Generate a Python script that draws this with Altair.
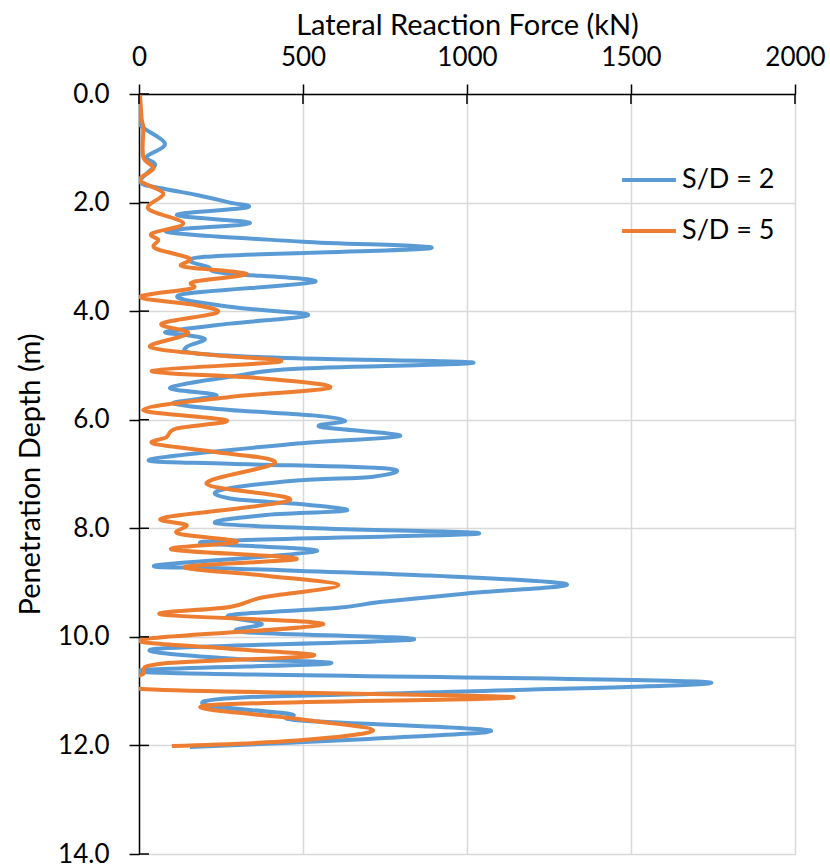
import altair as alt
import pandas as pd

# S/D = 2 (blue): depth (m) and lateral reaction force (kN)
sd2_depth = [0.0, 0.3, 0.57, 0.91, 1.16, 1.31, 1.62, 1.74, 1.86, 2.00, 2.09, 2.23, 2.38, 2.54,
             2.72, 2.84, 3.00, 3.20, 3.30, 3.46, 3.70, 3.92, 4.07, 4.23, 4.38, 4.44, 4.52,
             4.66, 4.78, 4.87, 4.95, 5.06, 5.18, 5.41, 5.55, 5.70, 5.82, 5.92, 6.02, 6.13,
             6.30, 6.44, 6.73, 6.81, 6.90, 7.05, 7.12, 7.30, 7.45, 7.55, 7.67, 7.76, 7.91,
             8.01, 8.10, 8.25, 8.42, 8.68, 8.74, 8.87, 9.03, 9.20, 9.36, 9.47, 9.60, 9.76,
             9.91, 10.05, 10.22, 10.40, 10.49, 10.65, 10.83, 11.02, 11.12, 11.26, 11.42,
             11.54, 11.72, 11.88, 12.03]
sd2_force = [2, 4, 3, 79, 23, 49, 3, 73, 176, 277, 328, 115, 338, 84,
             500, 887, 201, 215, 260, 537, 125, 277, 516, 277, 84, 145, 201,
             145, 176, 481, 1020, 481, 308, 95, 237, 105, 277, 530, 628, 552,
             796, 481, 34, 277, 755, 714, 481, 247, 277, 481, 633, 379, 237,
             582, 1030, 196, 542, 54, 277, 887, 1304, 1000, 735, 600, 277, 374,
             318, 836, 54, 277, 582, 23, 1726, 900, 300, 206, 460,
             491, 1070, 700, 155]

# S/D = 5 (orange)
sd5_depth = [0.0, 0.45, 0.63, 1.16, 1.37, 1.59, 1.83, 2.11, 2.38, 2.57, 2.69, 2.84, 3.03,
             3.18, 3.31, 3.46, 3.58, 3.74, 3.89, 4.03, 4.23, 4.41, 4.66, 4.81, 4.93, 5.10,
             5.24, 5.41, 5.58, 5.82, 6.01, 6.16, 6.32, 6.44, 6.59, 6.79, 7.18, 7.48, 7.80,
             7.94, 8.10, 8.25, 8.39, 8.56, 8.71, 8.87, 9.05, 9.27, 9.45, 9.59, 9.77, 10.05,
             10.22, 10.35, 10.49, 10.68, 10.96, 11.11, 11.26, 11.51, 11.72, 11.91, 12.01]
sd5_force = [3, 8, 13, 13, 44, 3, 74, 28, 135, 39, 59, 49, 155,
             135, 328, 166, 161, 3, 176, 237, 69, 150, 34, 227, 430, 39,
             379, 582, 277, 13, 267, 115, 84, 44, 227, 415, 206, 460, 79,
             145, 120, 298, 100, 481, 140, 379, 608, 379, 277, 69, 562, 8,
             277, 531, 74, 13, 13, 1141, 211, 481, 714, 481, 100]

series_names = ["S/D = 2", "S/D = 5"]
series_colors = ["#5B9BD5", "#ED7D31"]

x_ticks = [0, 500, 1000, 1500, 2000]
y_ticks = [0, 2, 4, 6, 8, 10, 12, 14]

df = pd.concat([
    pd.DataFrame({"depth": sd2_depth, "force": sd2_force, "series": series_names[0]}),
    pd.DataFrame({"depth": sd5_depth, "force": sd5_force, "series": series_names[1]}),
])

FONT = "Lato"

x_enc = alt.X("force:Q", scale=alt.Scale(domain=[0, 2000]),
              axis=alt.Axis(orient="top", values=x_ticks, format="d",
                            title="Lateral Reaction Force (kN)",
                            tickSize=10, labelPadding=14, titlePadding=4,
                            labelFlush=False, labelOverlap=False))
y_enc = alt.Y("depth:Q", scale=alt.Scale(domain=[0, 14], reverse=True),
              axis=alt.Axis(values=y_ticks, format=".1f",
                            title="Penetration Depth (m)",
                            tickSize=10, labelPadding=20, titlePadding=12,
                            labelFlush=False, labelOverlap=False))

lines = alt.Chart(df).mark_line(strokeWidth=4, interpolate="cardinal", clip=True).encode(
    x=x_enc,
    y=y_enc,
    order=alt.Order("depth:Q"),
    color=alt.Color("series:N",
                    scale=alt.Scale(domain=series_names, range=series_colors),
                    legend=alt.Legend(title=None, orient="none", legendX=481, legendY=57,
                                      symbolType="stroke", symbolStrokeWidth=4,
                                      symbolSize=2900, labelFontSize=27, labelFont=FONT,
                                      labelColor="black", labelOffset=4, rowPadding=9,
                                      labelLimit=300)),
)

# inner halves of the crossing tick marks
ytick_in = alt.Chart(pd.DataFrame({"t": y_ticks})).mark_rule(color="black", strokeWidth=1.5).encode(
    y=alt.Y("t:Q", scale=alt.Scale(domain=[0, 14], reverse=True)),
    x=alt.value(0), x2=alt.value(10))
xtick_in = alt.Chart(pd.DataFrame({"t": x_ticks})).mark_rule(color="black", strokeWidth=1.5).encode(
    x=alt.X("t:Q", scale=alt.Scale(domain=[0, 2000])),
    y=alt.value(0), y2=alt.value(10))

chart = alt.layer(lines, ytick_in, xtick_in).properties(
    width=656, height=760,
    autosize=alt.AutoSizeParams(type="none"),
    padding={"left": 139, "top": 94, "right": 35, "bottom": 11},
).configure_view(stroke=None).configure_axis(
    labelFont=FONT, titleFont=FONT, labelFontSize=26, titleFontSize=29,
    labelColor="black", titleColor="black", titleFontWeight="normal",
    domainColor="black", domainWidth=1.5, tickColor="black", tickWidth=1.5,
    gridColor="#d9d9d9", gridWidth=1.5,
)

chart.save("out.html", embed_options={"renderer": "svg", "actions": False})
